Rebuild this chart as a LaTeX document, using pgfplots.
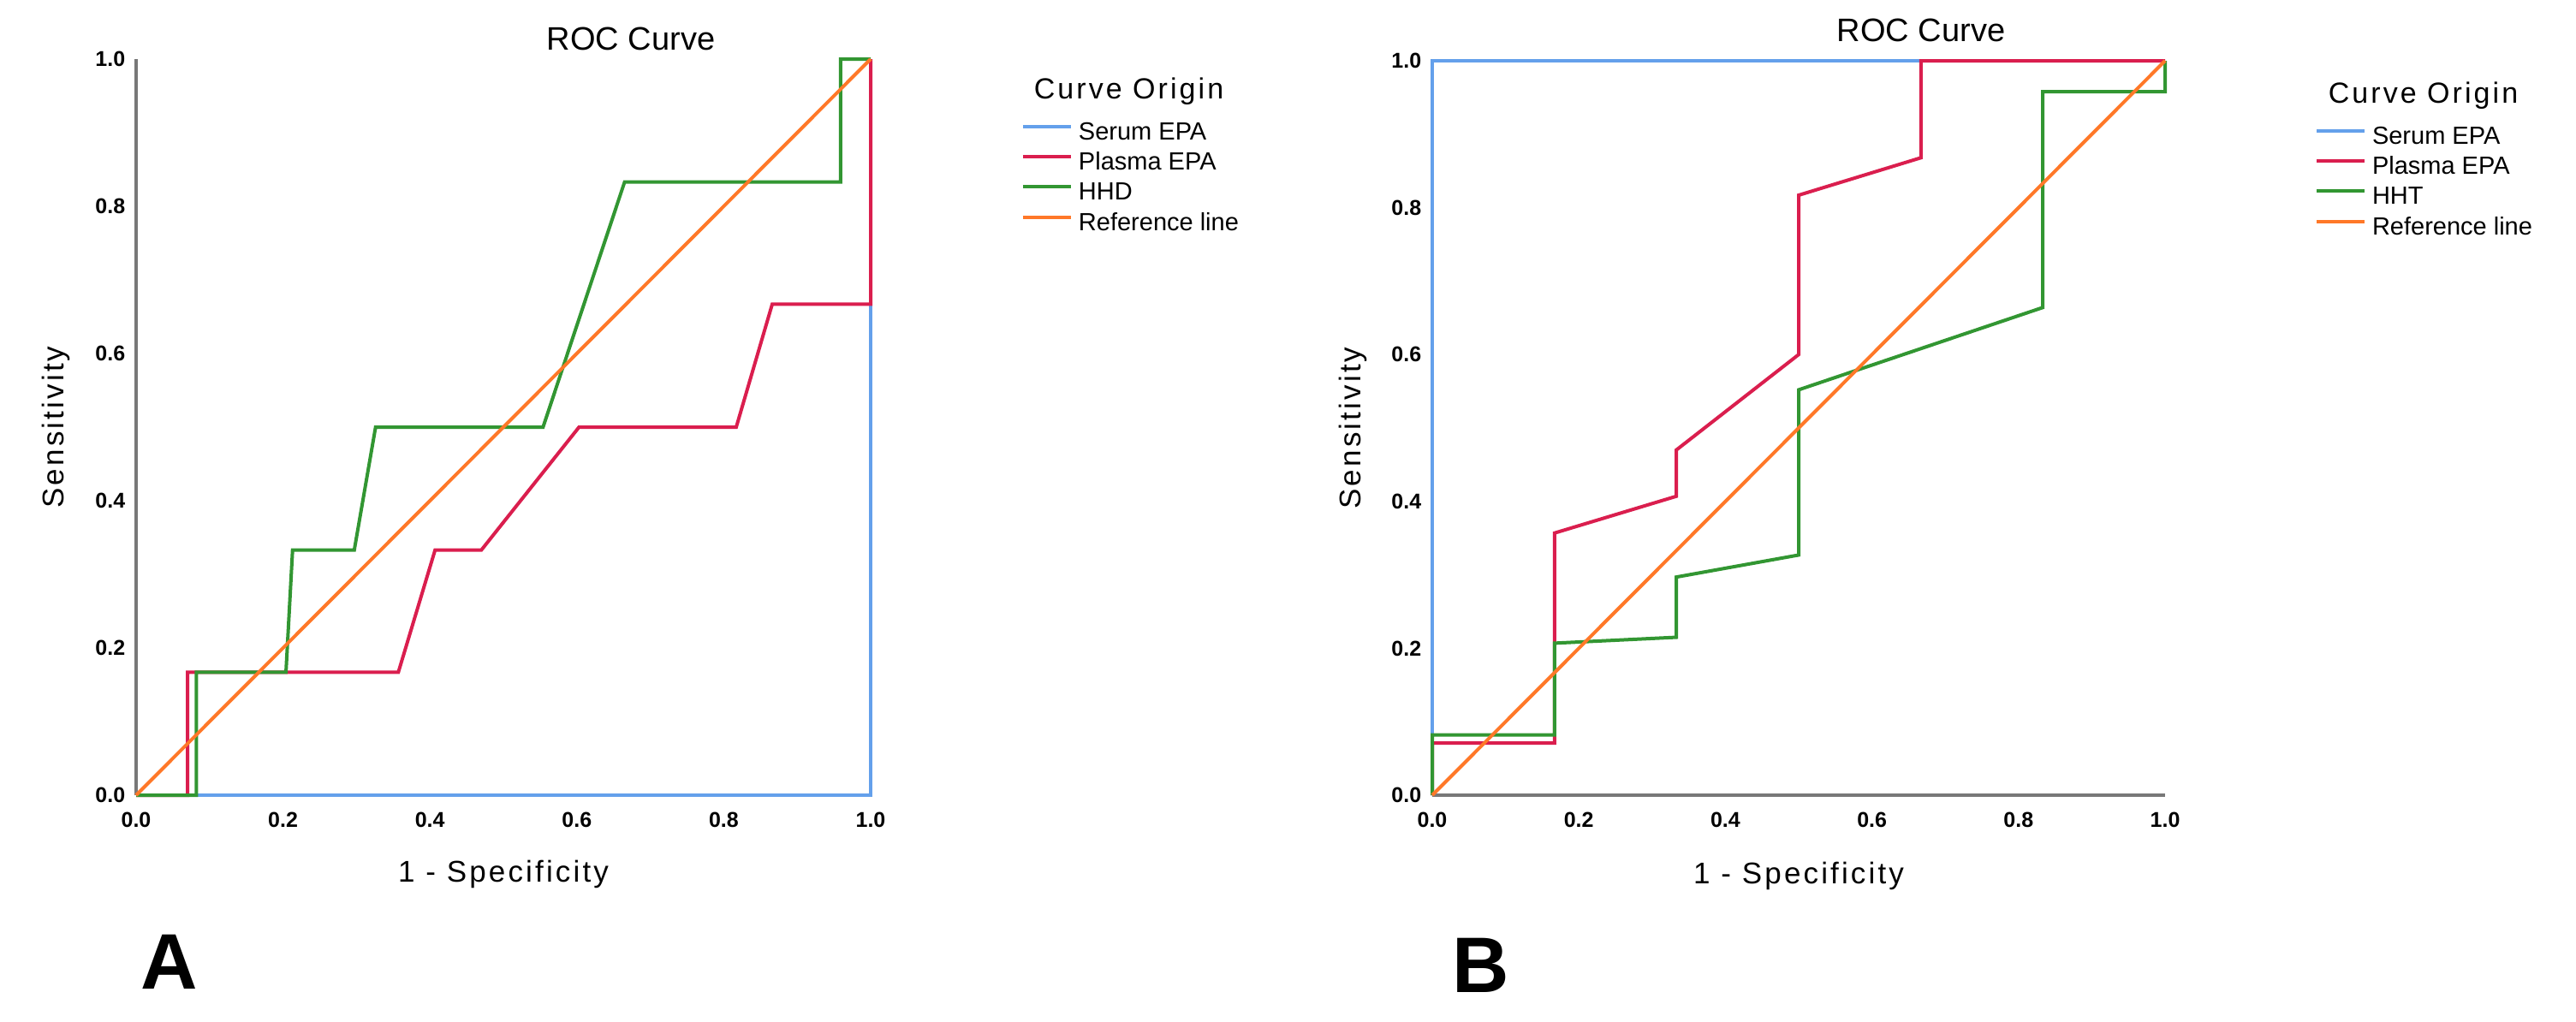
\documentclass[border=0pt]{standalone}
\usepackage{fontspec}
\setmainfont{Liberation Sans}
\newfontfamily\trackfont[LetterSpace=9]{Liberation Sans}
\usepackage{pgfplots}
\pgfplotsset{compat=1.18}

\definecolor{serum}{RGB}{100,160,235}
\definecolor{plasma}{RGB}{218,30,78}
\definecolor{hhd}{RGB}{50,150,50}
\definecolor{refl}{RGB}{255,120,40}
\definecolor{axisgray}{RGB}{120,120,120}

% 1 px of the reference = 0.25pt
\pgfplotsset{
  roc/.style={
    scale only axis,
    xmin=0, xmax=1, ymin=0, ymax=1,
    clip=false,
    axis x line*=bottom, axis y line*=left,
    axis line style={draw=axisgray, line width=1pt},
    xtick={0,0.2,0.4,0.6,0.8,1},
    ytick={0,0.2,0.4,0.6,0.8,1},
    major tick length=0pt,
    /pgf/number format/fixed,
    /pgf/number format/fixed zerofill,
    /pgf/number format/precision=1,
    /pgf/number format/assume math mode=true,
    ticklabel style={font=\fontsize{6.25}{7}\selectfont\bfseries},
    xticklabel style={inner sep=0pt, anchor=north, yshift=-4.75pt},
    yticklabel style={inner sep=0pt, anchor=east, xshift=-3pt},
    legend cell align=left,
    legend style={draw=none, fill=none, inner sep=0pt, outer sep=0pt,
      anchor=north west, font=\fontsize{7.25}{8}\selectfont,
      nodes={inner sep=0pt, text height=5.25pt, text depth=1.5pt},
      row sep=2.1pt, column sep=1.75pt},
    legend image code/.code={\draw[##1, line width=1pt] (0pt,2pt) -- (14pt,2pt);},
    every axis plot/.append style={line width=1pt, no markers},
  }
}

\begin{document}
\begin{tikzpicture}
\useasboundingbox (0,0) rectangle (752.25pt,298.25pt);

% ---------- A ----------
\begin{axis}[roc, at={(39.75pt,66pt)}, anchor=south west,
  width=214.5pt, height=215pt,
  legend style={at={(1.2051,0.9151)}}]
\addplot[serum] coordinates {(0,0) (1,0) (1,1)};
\addplot[plasma] coordinates {(0,0) (0.070,0) (0.070,0.167) (0.357,0.167)
  (0.407,0.333) (0.470,0.333) (0.603,0.5) (0.817,0.5) (0.866,0.667)
  (1,0.667) (1,1)};
\addplot[hhd] coordinates {(0,0) (0.082,0) (0.082,0.167) (0.204,0.167)
  (0.213,0.333) (0.297,0.333) (0.326,0.5) (0.554,0.5) (0.665,0.833)
  (0.959,0.833) (0.959,1) (1,1)};
\addplot[refl] coordinates {(0,0) (1,1)};
\legend{Serum EPA, Plasma EPA, HHD, Reference line}
\end{axis}

% ---------- B ----------
\begin{axis}[roc, at={(418.25pt,66pt)}, anchor=south west,
  width=214pt, height=214.5pt,
  legend style={at={(1.2044,0.9114)}}]
\addplot[serum] coordinates {(0,0) (0,1) (1,1)};
\addplot[plasma] coordinates {(0,0) (0,0.071) (0.167,0.071) (0.167,0.357)
  (0.333,0.407) (0.333,0.470) (0.5,0.600) (0.5,0.817) (0.667,0.868)
  (0.667,1) (1,1)};
\addplot[hhd] coordinates {(0,0) (0,0.082) (0.167,0.082) (0.167,0.207)
  (0.333,0.215) (0.333,0.297) (0.5,0.327) (0.5,0.552) (0.833,0.664)
  (0.833,0.958) (1,0.958) (1,1)};
\addplot[refl] coordinates {(0,0) (1,1)};
\legend{Serum EPA, Plasma EPA, HHT, Reference line}
\end{axis}

% titles and labels
\node[anchor=base, inner sep=0pt, font=\fontsize{9.5}{11}\selectfont] at (184.25pt,283.75pt) {ROC Curve};
\node[anchor=base, inner sep=0pt, font=\fontsize{9.5}{11}\selectfont] at (561pt,286.25pt) {ROC Curve};

\node[anchor=base, inner sep=0pt, font=\trackfont\fontsize{8.75}{10}\selectfont] at (147pt,40.75pt) {1 - Specificity};
\node[anchor=base, inner sep=0pt, font=\trackfont\fontsize{8.75}{10}\selectfont] at (525.25pt,40.25pt) {1 - Specificity};

\node[anchor=base, rotate=90, inner sep=0pt, font=\trackfont\fontsize{8.75}{10}\selectfont] at (18.5pt,173.5pt) {Sensitivity};
\node[anchor=base, rotate=90, inner sep=0pt, font=\trackfont\fontsize{8.75}{10}\selectfont] at (397.25pt,173.25pt) {Sensitivity};

\node[anchor=base west, inner sep=0pt, font=\trackfont\fontsize{8.5}{10}\selectfont] at (301.75pt,269.5pt) {Curve Origin};
\node[anchor=base west, inner sep=0pt, font=\trackfont\fontsize{8.5}{10}\selectfont] at (679.75pt,268.25pt) {Curve Origin};

\node[anchor=base west, inner sep=0pt, font=\fontsize{23}{26}\selectfont\bfseries] at (41pt,9.5pt) {A};
\node[anchor=base west, inner sep=0pt, font=\fontsize{23}{26}\selectfont\bfseries] at (424pt,8.5pt) {B};
\end{tikzpicture}
\end{document}
